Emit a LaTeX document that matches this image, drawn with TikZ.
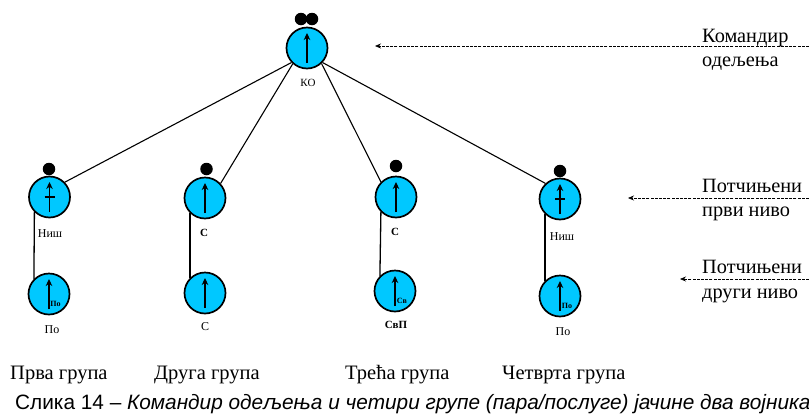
\documentclass[tikz,border=0pt]{standalone}
\usepackage{fontspec}
\setmainfont{Liberation Serif}
\setsansfont{Liberation Sans}
\usetikzlibrary{arrows.meta}
\definecolor{cyanfill}{HTML}{00C8FF}
\tikzset{
  soldier/.style={circle,draw=black,line width=1.7pt,fill=cyanfill,minimum size=41pt,inner sep=0pt},
  pip/.style={circle,fill=black,minimum size=12.5pt,inner sep=0pt},
  rank/.style={-{Stealth[length=7pt,width=6.5pt]},line width=1.7pt},
  bar/.style={line width=1.5pt},
  link/.style={line width=1.1pt},
  pairlink/.style={line width=1.3pt},
  pointer/.style={-{Stealth[length=6pt,width=5pt]},dashed,dash pattern=on 3pt off 1.2pt,line width=.7pt},
  smalllab/.style={font=\fontsize{11}{12}\selectfont,inner sep=0pt},
  midlab/.style={font=\fontsize{12}{13}\selectfont,inner sep=0pt},
  boldlab/.style={font=\bfseries\fontsize{11}{12}\selectfont,inner sep=0pt},
  tinylab/.style={font=\bfseries\fontsize{8}{9}\selectfont,inner sep=0pt},
  sidelab/.style={font=\fontsize{20.3}{22}\selectfont,anchor=base west,inner sep=0pt},
  grouplab/.style={font=\fontsize{20.5}{22}\selectfont,anchor=base west,inner sep=0pt},
  caption/.style={font=\sffamily\fontsize{20.8}{22}\selectfont,anchor=base west,inner sep=0pt}
}
\begin{document}
\begin{tikzpicture}[x=1pt,y=-1pt]
\useasboundingbox[fill=white] (0,0) rectangle (809,413);
% soldiers
\node[soldier] (top) at (307,48) {};
\node[soldier] (a1) at (49.5,197) {};
\node[soldier] (b1) at (205,198) {};
\node[soldier] (c1) at (396,197) {};
\node[soldier] (d1) at (560,199) {};
\node[soldier] (a2) at (49,294) {};
\node[soldier] (b2) at (205,293) {};
\node[soldier] (c2) at (395,291) {};
\node[soldier] (d2) at (560,296) {};
% links
\draw[link] (top.223) -- (a1.44);
\draw[link] (top.228) -- (b1.43);
\draw[link] (top.-47) -- (c1.135);
\draw[link] (top.-43) -- (d1.133);
\draw[pairlink] (a1.225) -- (a2.135);
\draw[pairlink] (b1.225) -- (b2.135);
\draw[pairlink] (c1.225) -- (c2.135);
\draw[pairlink] (d1.225) -- (d2.135);
% pips
\node[pip] (t1) at (301,19) {};
\node[pip] (t2) at (312,19) {};
\node[pip] (pa) at (49,169) {};
\node[pip] (pb) at (206.5,169) {};
\node[pip] (pc) at (396,166) {};
\node[pip] (pd) at (560,171) {};
% rank arrows
\foreach \n in {top,a1,b1,c1,d1,a2,b2,c2,d2}{
  \draw[rank] ([yshift=-15pt]\n.center) -- ([yshift=15pt]\n.center);
}
\draw[bar] ([xshift=-5pt]a1.center) -- ([xshift=5pt]a1.center);
\draw[bar] ([xshift=-5pt]d1.center) -- ([xshift=5pt]d1.center);
% labels
\node[smalllab] (lk) at (308,83) {КО};
\node[midlab] (la) at (50,234) {Ниш};
\node[boldlab] (lb) at (204,233) {С};
\node[boldlab] (lc) at (395,232) {С};
\node[midlab] (ld) at (562,237) {Ниш};
\node[midlab] (la2) at (52,330) {По};
\node[midlab] (lb2) at (205,327) {С};
\node[boldlab] (lc2) at (396,325) {СвП};
\node[midlab] (ld2) at (563,332) {По};
\node[tinylab] (ia) at (55.5,304) {По};
\node[tinylab] (ic) at (402,301) {Св};
\node[tinylab] (id) at (567,306) {По};
% side text
\node[sidelab] (s1) at (702,42) {Командир};
\node[sidelab] (s2) at (702,66) {одељења};
\node[sidelab] (s3) at (702,192) {Потчињени};
\node[sidelab] (s4) at (702,216) {први ниво};
\node[sidelab] (s5) at (702,273) {Потчињени};
\node[sidelab] (s6) at (702,298) {други ниво};
\coordinate (e1) at (809,46);
\coordinate (f1) at (375,46);
\coordinate (e2) at (809,198);
\coordinate (f2) at (628,198);
\coordinate (e3) at (809,279);
\coordinate (f3) at (680,279);
\draw[pointer] (e1) -- (f1);
\draw[pointer] (e2) -- (f2);
\draw[pointer] (e3) -- (f3);
% group names
\node[grouplab] (g1) at (10,379) {Прва група};
\node[grouplab] (g2) at (154,379) {Друга група};
\node[grouplab] (g3) at (345,379) {Трећа група};
\node[grouplab] (g4) at (502,379) {Четврта група};
\node[caption] (cap) at (15,409) {Слика 14 – \textit{Командир одељења и четири групе (пара/послуге) јачине два војника}};
\end{tikzpicture}
\end{document}
